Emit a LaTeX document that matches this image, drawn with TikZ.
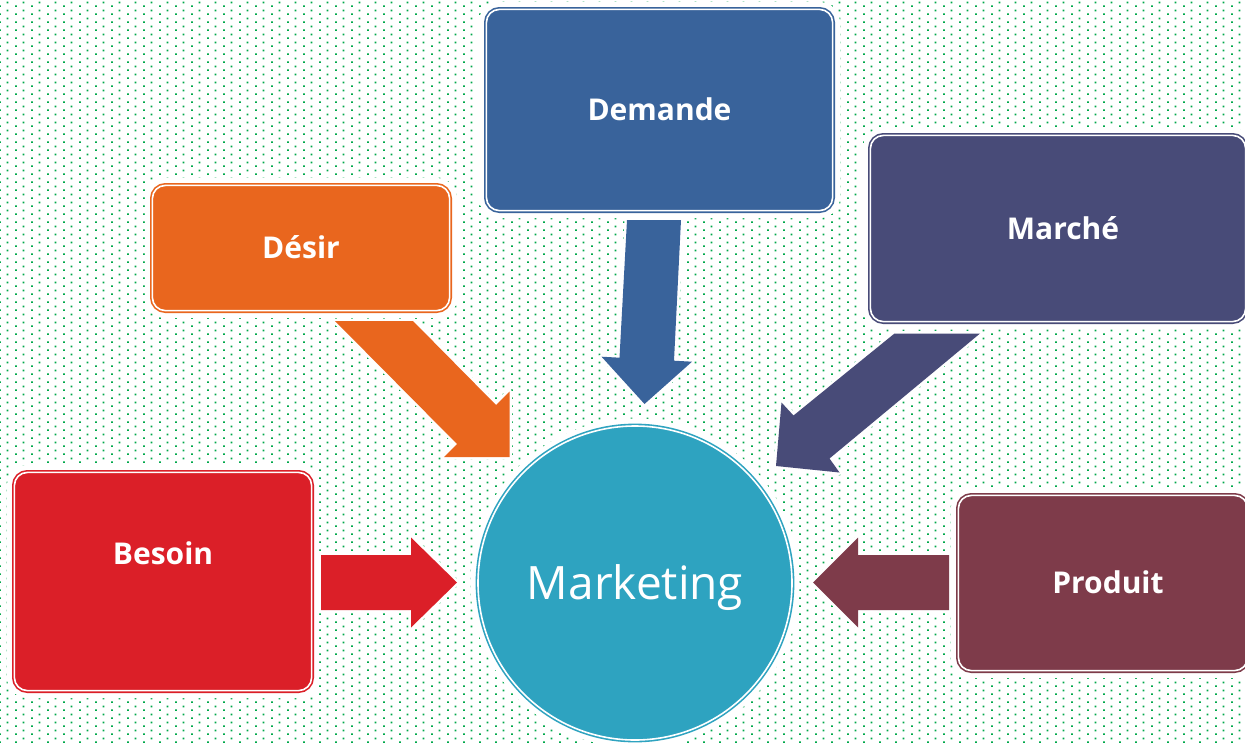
\documentclass[tikz,border=0pt]{standalone}
\usepackage{fontspec}
\setmainfont{Open Sans}
\usetikzlibrary{patterns}
\pgfdeclarepatternformonly{greendots}{\pgfqpoint{0pt}{0pt}}{\pgfqpoint{16pt}{8pt}}{\pgfqpoint{16pt}{8pt}}{%
  \pgfpathrectangle{\pgfqpoint{0pt}{0pt}}{\pgfqpoint{1.9pt}{1.9pt}}%
  \pgfpathrectangle{\pgfqpoint{8pt}{4pt}}{\pgfqpoint{1.9pt}{1.9pt}}%
  \pgfusepath{fill}}
\definecolor{cdesir}{RGB}{233,102,30}
\definecolor{cdemande}{RGB}{57,99,155}
\definecolor{cmarche}{RGB}{72,75,120}
\definecolor{cbesoin}{RGB}{219,31,40}
\definecolor{cproduit}{RGB}{126,59,74}
\definecolor{cmkt}{RGB}{46,163,192}
\definecolor{dotgreen}{RGB}{0,168,75}
\tikzset{
  box/.style={draw=#1, fill=#1, double=white, double distance=1.6pt, line width=1.6pt,
    rounded corners=13pt, inner sep=0pt, outer sep=0pt,
    preaction={draw=white, line width=15pt},
    text=white, font=\bfseries\fontsize{30}{36}\selectfont,
    text height=21.4pt, text depth=0pt},
  hub/.style={circle, draw=cmkt, fill=cmkt, double=white, double distance=1.6pt, line width=1.6pt,
    inner sep=0pt, outer sep=0pt, minimum size=314pt,
    preaction={draw=white, line width=15pt},
    text=white, font=\fontsize{46}{54}\selectfont, text height=32.8pt, text depth=0pt},
  blockarrow/.style={fill=#1, preaction={draw=white, line width=5pt, line join=round}}
}
\begin{document}
\begin{tikzpicture}[x=1pt,y=-1pt]
\useasboundingbox (0,0) rectangle (1245,742);
\clip (0,0) rectangle (1245,742);
\fill[white] (0,0) rectangle (1245,742);
\fill[pattern=greendots, pattern color=dotgreen] (0,0) rectangle (1245,742);

% boxes
\node[box=cdesir, minimum width=297.2pt, minimum height=125.2pt] (desir) at (301,248) {Désir};
\node[box=cdemande, minimum width=346.2pt, minimum height=201.2pt] (demande) at (659.5,110) {Demande};
\node[box=cmarche, minimum width=375.2pt, minimum height=186.2pt] (marche) at (1058,228.5) {\hspace*{10pt}Marché};
\node[box=cbesoin, minimum width=297.2pt, minimum height=218.2pt, text depth=56pt] (besoin) at (163,581.5) {Besoin};
\node[box=cproduit, minimum width=289.2pt, minimum height=175.2pt] (produit) at (1103,583) {\hspace*{10pt}Produit};

% block arrows
\path[blockarrow=cbesoin] (321,555) -- (411,555) -- (411,537.5) -- (457,582.5) -- (411,627.5) -- (411,610) -- (321,610) -- cycle;
\path[blockarrow=cproduit] (949,555) -- (858,555) -- (858,537.5) -- (813,582.5) -- (858,627.5) -- (858,610) -- (949,610) -- cycle;
\path[blockarrow=cdemande] (627,220) -- (681,220) -- (674,360.7) -- (692,361.7) -- (644.5,404) -- (601.5,356.7) -- (619.5,357.7) -- cycle;
\path[blockarrow=cdesir] (335,321) -- (413,321) -- (496,405) -- (509.5,391.5) -- (509.5,457) -- (444,457) -- (457,444) -- cycle;
\path[blockarrow=cmarche] (894.5,333.5) -- (980,333.5) -- (829.5,458.5) -- (839.5,472.5) -- (776,466) -- (781.5,402.5) -- (793.5,415.5) -- cycle;

% hub
\node[hub] (mkt) at (635,583) {Marketing};
\end{tikzpicture}
\end{document}
